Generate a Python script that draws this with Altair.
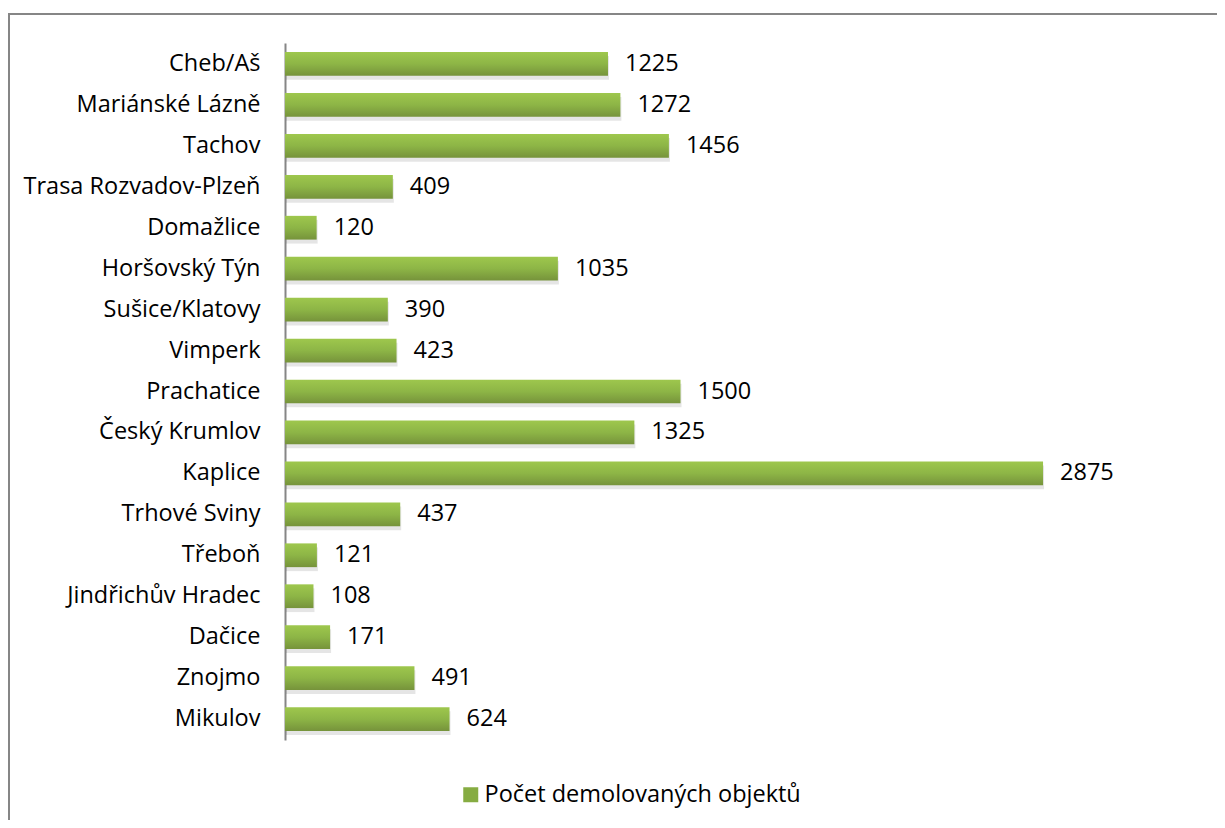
import altair as alt
import pandas as pd

regions = ["Cheb/Aš", "Mariánské Lázně", "Tachov", "Trasa Rozvadov-Plzeň", "Domažlice",
           "Horšovský Týn", "Sušice/Klatovy", "Vimperk", "Prachatice", "Český Krumlov",
           "Kaplice", "Trhové Sviny", "Třeboň", "Jindřichův Hradec", "Dačice", "Znojmo", "Mikulov"]
values = [1225, 1272, 1456, 409, 120, 1035, 390, 423, 1500, 1325, 2875, 437, 121, 108, 171, 491, 624]
series_name = "Počet demolovaných objektů"

df = pd.DataFrame({"region": regions, "value": values, "series": [series_name] * len(regions)})

FONT = "Open Sans"
FS = 23.5
W, H = 791, 697

xenc = alt.X("value:Q", scale=alt.Scale(domain=[0, 3000], nice=False), axis=None)
yenc = alt.Y("region:N", sort=regions,
             scale=alt.Scale(paddingInner=0.42, paddingOuter=0.222),
             axis=alt.Axis(title=None, ticks=False, domain=True, domainColor="#868686",
                           domainWidth=2, labelFontSize=FS, labelFont=FONT, labelColor="#000",
                           labelPadding=25, labelLimit=0, grid=False))

base = alt.Chart(df)

shadow = base.mark_bar(color="#000000", opacity=0.10, yOffset=4, xOffset=1).encode(x=xenc, y=yenc)

grad = alt.LinearGradient(
    gradient="linear", x1=0, x2=0, y1=0, y2=1,
    stops=[alt.GradientStop(color="#9EC74D", offset=0),
           alt.GradientStop(color="#8DB546", offset=0.5),
           alt.GradientStop(color="#76933B", offset=1)])
bars = base.mark_bar(fill=grad).encode(x=xenc, y=yenc)

labels = base.mark_text(align="left", baseline="middle", dx=17, fontSize=FS, font=FONT,
                        color="#000").encode(x=xenc, y=yenc, text="value:Q")

legend_layer = base.mark_square(size=0, opacity=1, filled=True).encode(
    x=xenc, y=yenc,
    color=alt.Color("series:N", scale=alt.Scale(range=["#86AC42"]),
                    legend=alt.Legend(title=None, orient="none", legendX=174, legendY=740,
                                      symbolType="square", symbolSize=225, symbolStrokeWidth=0,
                                      symbolOpacity=1,
                                      labelFontSize=FS, labelFont=FONT, labelColor="#000",
                                      labelOffset=2, labelLimit=0, padding=0)))

frame_top = alt.Chart(pd.DataFrame({"k": [0]})).mark_rule(color="#868686", strokeWidth=2).encode(
    x=alt.value(-277), x2=alt.value(W + 141), y=alt.value(-29))
frame_left = alt.Chart(pd.DataFrame({"k": [0]})).mark_rule(color="#868686", strokeWidth=2).encode(
    x=alt.value(-276), y=alt.value(-30), y2=alt.value(H + 90))

chart = alt.layer(frame_top, frame_left, shadow, bars, labels, legend_layer).properties(
    width=W, height=H,
    background="white",
    padding={"left": 277, "top": 35, "right": 141, "bottom": 80},
    autosize=alt.AutoSizeParams(type="none"),
).configure_view(strokeWidth=0, stroke="transparent")

chart.save("out.html", embed_options={"renderer": "svg", "actions": False})
